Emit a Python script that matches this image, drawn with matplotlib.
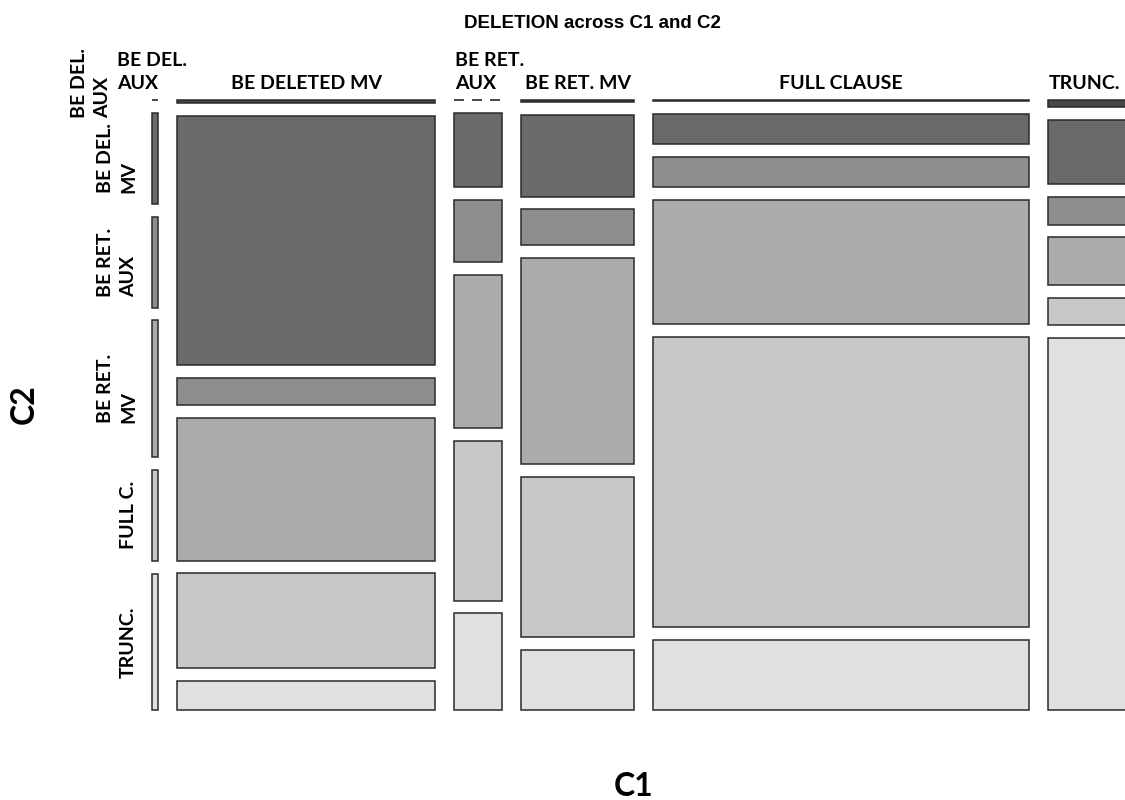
import matplotlib
matplotlib.use("Agg")
import matplotlib.pyplot as plt
from matplotlib.patches import Rectangle

# C1 (columns) and C2 (rows) levels
c1_levels = ["BE DEL.\nAUX", "BE DELETED MV", "BE RET.\nAUX", "BE RET. MV", "FULL CLAUSE", "TRUNC."]
c2_levels = ["BE DEL.\nAUX", "BE DEL.\nMV", "BE RET.\nAUX", "BE RET.\nMV", "FULL C.", "TRUNC."]

# counts of C2 within each C1 column
be_del_aux = [0, 2, 2, 3, 2, 3]
be_deleted_mv = [3, 237, 26, 136, 90, 28]
be_ret_aux = [0, 13, 11, 27, 28, 17]
be_ret_mv = [1, 34, 15, 86, 67, 25]
full_clause = [1, 42, 42, 172, 402, 97]
trunc = [2, 19, 8, 14, 8, 109]
columns = [be_del_aux, be_deleted_mv, be_ret_aux, be_ret_mv, full_clause, trunc]

row_colors = ["#474747", "#6a6a6a", "#8e8e8e", "#ababab", "#c8c8c8", "#e0e0e0"]
EDGE = "#2a2a2a"

LBL_FONT = "Lato"
TITLE_FONT = "Liberation Sans"

# layout in pixels
X0, Y0 = 152, 100
PX_PER_COUNT = 0.497
COL_GAP = 19
PLOT_H = 546
ROW_GAP = 12.8

fig = plt.figure(figsize=(11.25, 8), dpi=100)
ax = fig.add_axes([0, 0, 1, 1])
ax.set_xlim(0, 1125)
ax.set_ylim(800, 0)
ax.axis("off")

col_bounds = []
x = X0
for col in columns:
    total = sum(col)
    w = total * PX_PER_COUNT
    y = Y0
    segs = []
    for i, n in enumerate(col):
        h = n / total * PLOT_H
        if n == 0:
            # empty cell -> dashed line
            ax.plot([x, x + w], [y, y], color=EDGE, lw=1.2,
                    dashes=(6, 4.8), solid_capstyle="butt")
        else:
            ax.add_patch(Rectangle((x, y), w, h, facecolor=row_colors[i],
                                   edgecolor=EDGE, lw=1.1))
        segs.append((y, y + h))
        y += h + ROW_GAP
    col_bounds.append((x, x + w, segs))
    x += w + COL_GAP

# title
ax.text(592, 23, "DELETION across C1 and C2", ha="center", va="center",
        fontsize=13.5, fontweight="bold", family=TITLE_FONT)

# top (C1) labels
top_pos = [(117, "left"), (None, "center"), (455, "left"),
           (None, "center"), (None, "center"), (1049, "left")]
for (x0, x1, _), lab, (px, ha) in zip(col_bounds, c1_levels, top_pos):
    if px is None:
        px = (x0 + x1) / 2
    ax.text(px, 89, lab, ha=ha, va="baseline", fontsize=14, fontweight="bold",
            family=LBL_FONT, linespacing=1.45, multialignment="left")

# left (C2) labels, placed on the first column's tiles
segs = col_bounds[0][2]
for i, lab in enumerate(c2_levels):
    if i == 0:
        ax.text(111, 118, lab, rotation=90, ha="right", va="bottom",
                fontsize=14, fontweight="bold", family=LBL_FONT,
                linespacing=1.45, multialignment="left")
    else:
        yc = (segs[i][0] + segs[i][1]) / 2
        ax.text(137, yc, lab, rotation=90, ha="right", va="center",
                fontsize=14, fontweight="bold", family=LBL_FONT,
                linespacing=1.45, multialignment="left")

# axis names
ax.text(634, 787, "C1", ha="center", va="center", fontsize=23,
        fontweight="bold", family=LBL_FONT)
ax.text(24, 404, "C2", ha="center", va="center", rotation=90, fontsize=23,
        fontweight="bold", family=LBL_FONT)

fig.savefig("out.png", dpi=100, facecolor="white")
